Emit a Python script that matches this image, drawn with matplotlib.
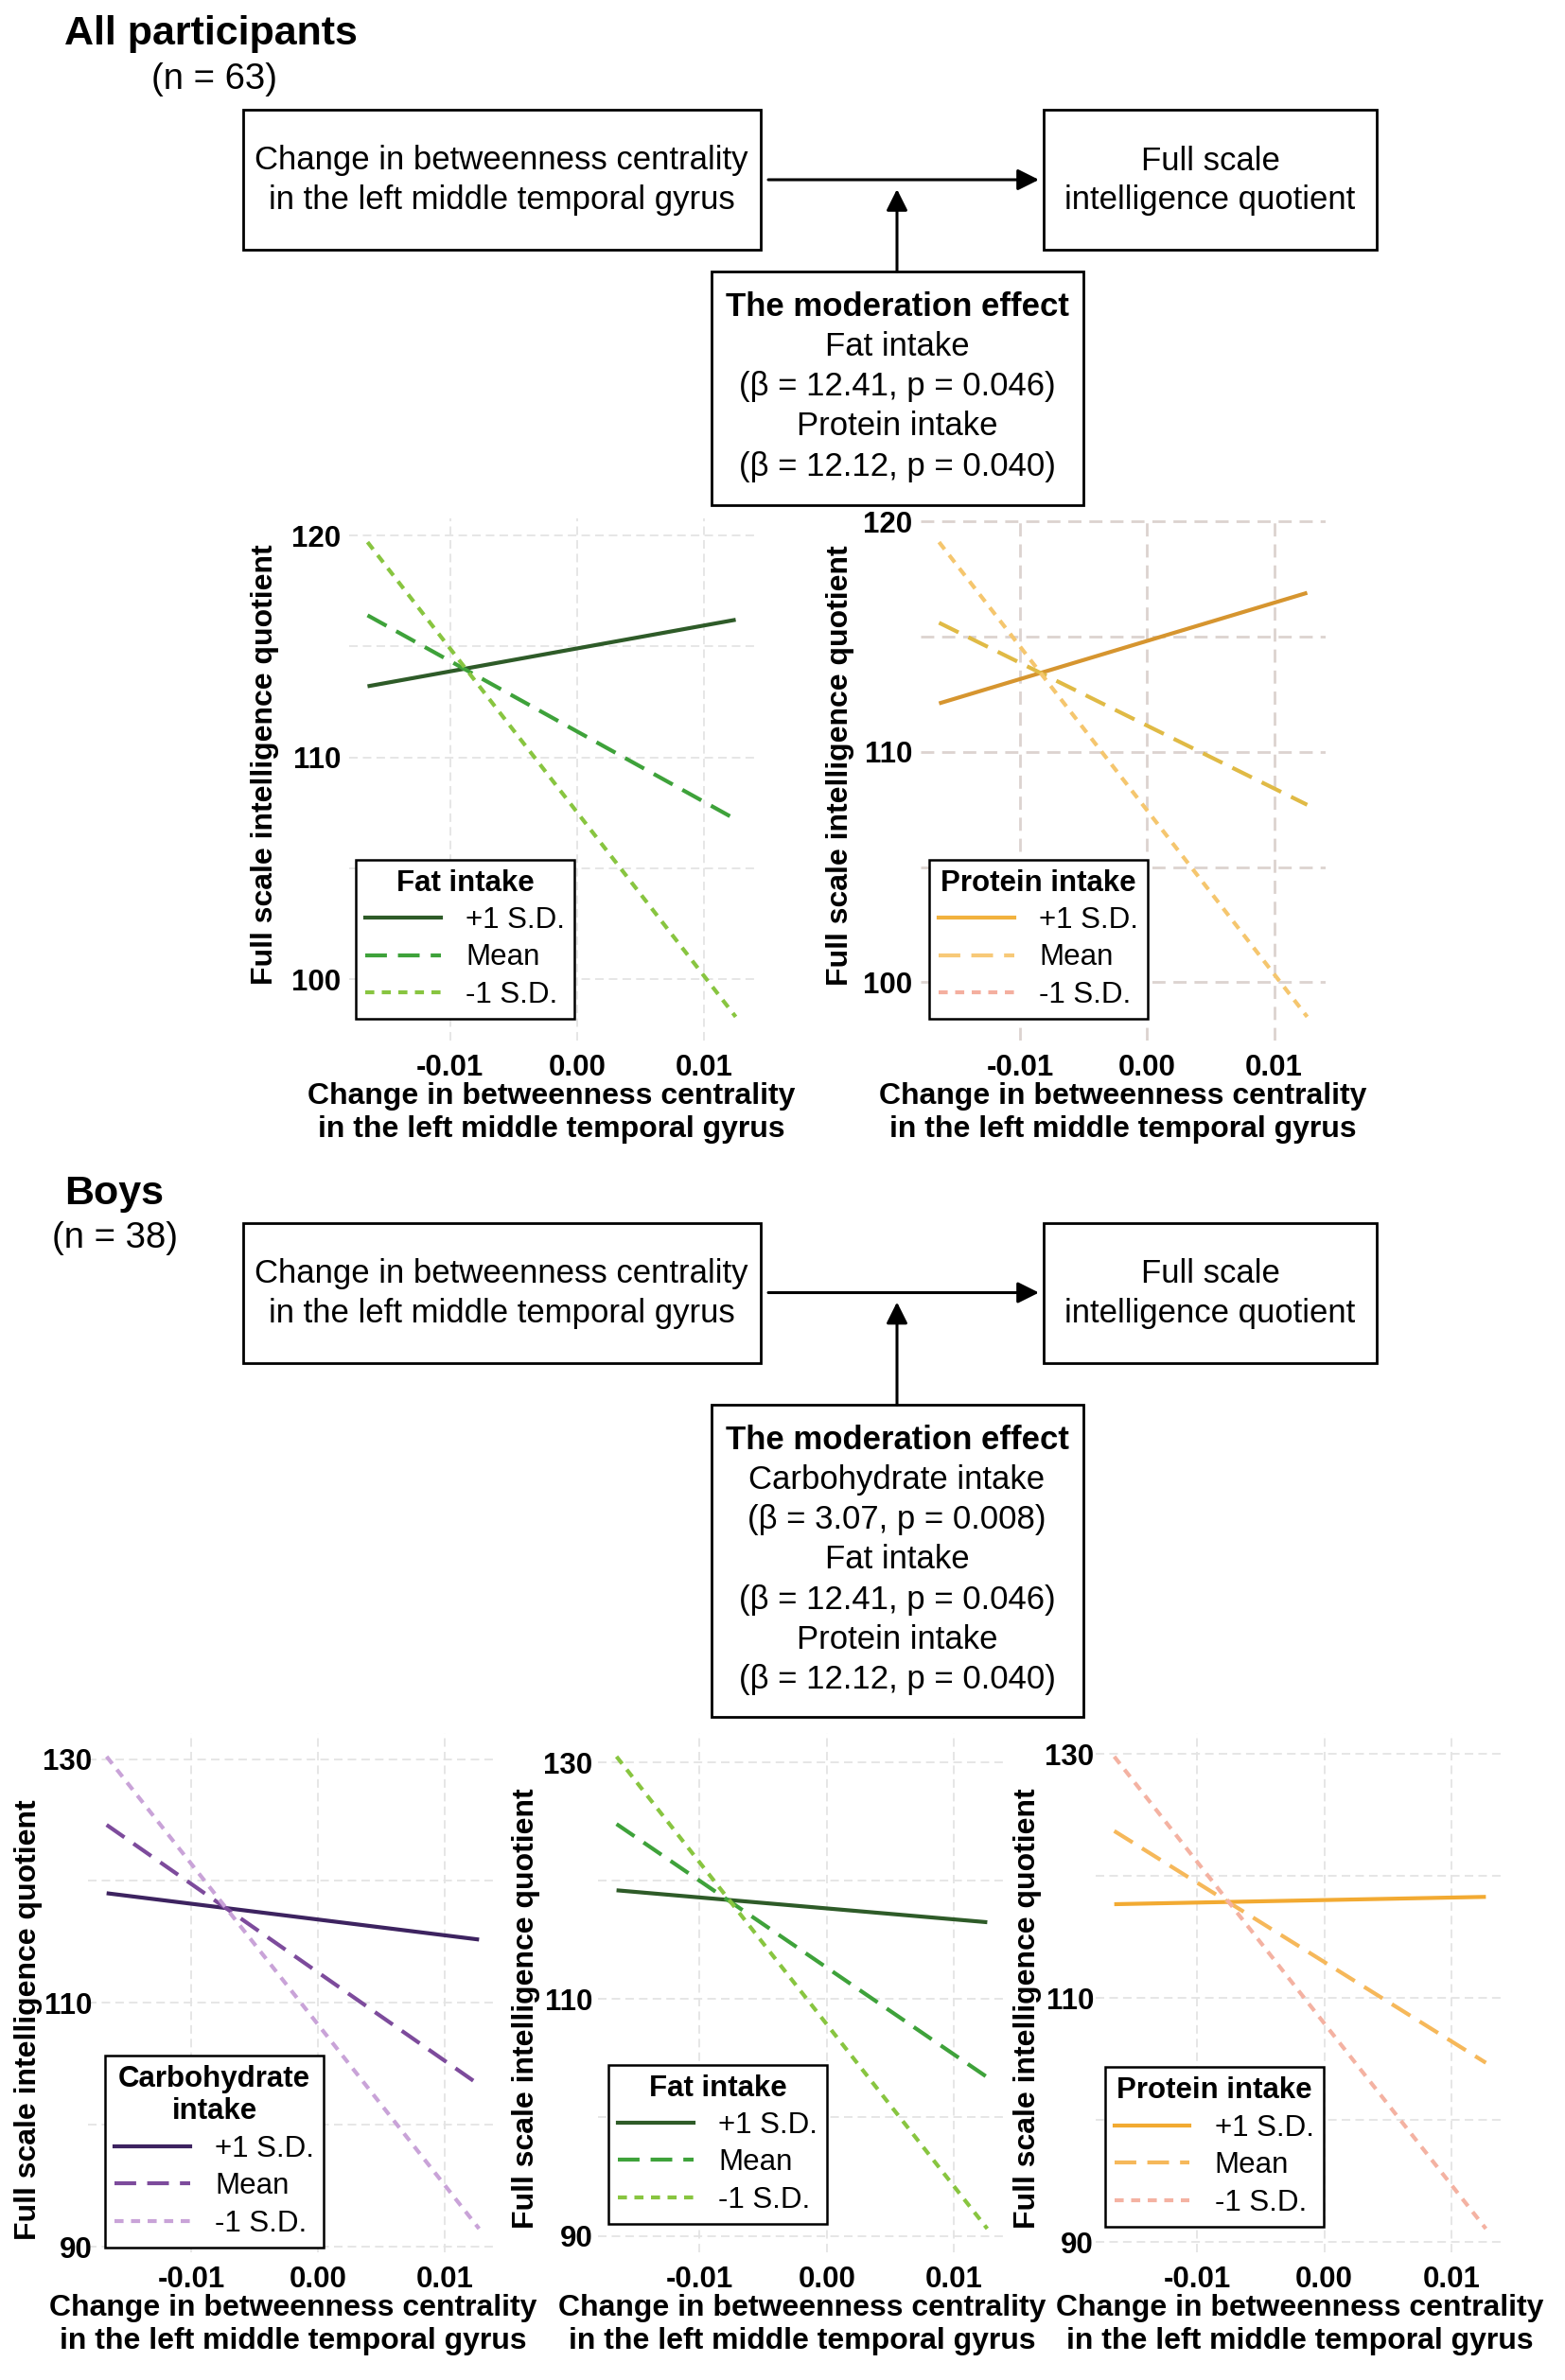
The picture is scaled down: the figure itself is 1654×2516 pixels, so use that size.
import matplotlib
matplotlib.use("Agg")
import matplotlib.pyplot as plt
from matplotlib.lines import Line2D
from matplotlib.patches import Rectangle

plt.rcParams['font.family'] = ['Liberation Sans', 'DejaVu Sans']

W, H = 1654, 2516

levels = ["+1 S.D.", "Mean", "-1 S.D."]
x_ticks = [-0.01, 0.00, 0.01]
x_ticklabels = ["-0.01", "0.00", "0.01"]

# ---- all participants (n = 63): line end points
all_fat_x = [-0.0165, 0.0125]
all_fat_hi = [113.2, 116.2]
all_fat_mean = [116.4, 107.2]
all_fat_lo = [119.7, 98.3]

all_prot_x = [-0.0164, 0.0126]
all_prot_hi = [112.1, 116.9]
all_prot_mean = [115.6, 107.7]
all_prot_lo = [119.1, 98.5]

# ---- boys (n = 38)
boys_carb_x = [-0.0167, 0.0127]
boys_carb_hi = [119.0, 115.2]
boys_carb_mean = [124.6, 103.3]
boys_carb_lo = [130.2, 91.5]

boys_fat_x = [-0.0165, 0.0126]
boys_fat_hi = [119.2, 116.5]
boys_fat_mean = [124.8, 103.4]
boys_fat_lo = [130.5, 90.6]

boys_prot_x = [-0.0165, 0.0127]
boys_prot_hi = [117.7, 118.3]
boys_prot_mean = [123.7, 104.7]
boys_prot_lo = [129.8, 91.1]

# diagram texts
box_left = ["Change in betweenness centrality", "in the left middle temporal gyrus"]
box_right = ["Full scale", "intelligence quotient"]
mod_all = ["The moderation effect", "Fat intake", "(β = 12.41, p = 0.046)",
           "Protein intake", "(β = 12.12, p = 0.040)"]
mod_boys = ["The moderation effect", "Carbohydrate intake", "(β = 3.07, p = 0.008)",
            "Fat intake", "(β = 12.41, p = 0.046)",
            "Protein intake", "(β = 12.12, p = 0.040)"]

greens = ["#2e5b28", "#3ea23a", "#88c540"]
purples = ["#3d2360", "#7d4b9c", "#c9a3d8"]
oranges_top = ["#d6952f", "#e0ba45", "#f5c66e"]
oranges_top_leg = ["#f2b23e", "#f7c978", "#f4af9f"]
oranges_boys = ["#f2aa32", "#f6b85a", "#f4b2a2"]
styles = ["-", (0, (5.5, 2.8)), (0, (2.3, 1.9))]

fig = plt.figure(figsize=(W / 100, H / 100), dpi=100)

# ---------- diagram layer in pixel coordinates
bg = fig.add_axes([0, 0, 1, 1])
bg.set_xlim(0, W)
bg.set_ylim(H, 0)
bg.axis("off")
bg.set_zorder(-1)

FS_BOX = 25


def box(x0, y0, x1, y1):
    bg.add_patch(Rectangle((x0, y0), x1 - x0, y1 - y0, fill=False, ec="black", lw=2))


def lines_in(xc, y_first, step, texts, bold_first=False):
    for i, t in enumerate(texts):
        bg.text(xc, y_first + i * step, t, ha="center", va="center", fontsize=FS_BOX,
                fontweight="bold" if (bold_first and i == 0) else "normal")


def arrow(x0, y0, x1, y1):
    bg.annotate("", xy=(x1, y1), xytext=(x0, y0),
                arrowprops=dict(arrowstyle="-|>", color="black", lw=2.2,
                                mutation_scale=34, shrinkA=0, shrinkB=0))


def diagram(y_off, mod_top, mod_bottom, mod_texts):
    box(257, 116 + y_off, 804, 264 + y_off)
    box(1103, 116 + y_off, 1455, 264 + y_off)
    lines_in(530, 170 + y_off, 42, box_left)
    lines_in(1279, 170 + y_off, 42, box_right)
    arrow(812, 190 + y_off, 1098, 190 + y_off)
    box(752, mod_top, 1145, mod_bottom)
    arrow(948, mod_top, 948, 200 + y_off)
    lines_in(948, mod_top + 37, 42.3, mod_texts, bold_first=True)


diagram(0, 287, 534, mod_all)
diagram(1176.5, 1485, 1815, mod_boys)

bg.text(68, 36, "All participants", fontsize=31, fontweight="bold", va="center", ha="left")
bg.text(160, 84, "(n = 63)", fontsize=27.5, va="center", ha="left")
bg.text(68, 1262, "Boys", fontsize=31, fontweight="bold", va="center", ha="left")
bg.text(55, 1309, "(n = 38)", fontsize=27.5, va="center", ha="left")


# ---------- simple slope panels
def panel(px, x, series, colors, leg_title, leg_anchor, yticks, ygrid,
          ylab_pos, ypad, grid_color="#e4e4e4", grid_lw=1.3, leg_colors=None):
    x0, y0, x1, y1 = px
    ax = fig.add_axes([x0 / W, 1 - y1 / H, (x1 - x0) / W, (y1 - y0) / H])
    for ys, c, s in zip(series, colors, styles):
        ax.plot(x, ys, color=c, ls=s, lw=3, solid_capstyle="butt", dash_capstyle="butt")
    allv = [v for ys in series for v in ys]
    xr = x[1] - x[0]
    yr = max(allv) - min(allv)
    ax.set_xlim(x[0] - 0.05 * xr, x[1] + 0.05 * xr)
    ax.set_ylim(min(allv) - 0.05 * yr, max(allv) + 0.05 * yr)
    ax.set_xticks(x_ticks)
    ax.set_xticklabels(x_ticklabels)
    ax.set_yticks(yticks)
    ax.set_yticks(ygrid, minor=True)
    ax.tick_params(axis="both", which="both", length=0, labelsize=22.5)
    ax.tick_params(axis="x", pad=10)
    ax.tick_params(axis="y", pad=ypad)
    for lab in ax.get_xticklabels() + ax.get_yticklabels():
        lab.set_fontweight("bold")
    ax.grid(True, which="both", color=grid_color, lw=grid_lw, ls=(0, (5, 3)))
    ax.set_axisbelow(True)
    for sp in ax.spines.values():
        sp.set_visible(False)
    ax.set_xlabel("Change in betweenness centrality\nin the left middle temporal gyrus",
                  fontsize=23, fontweight="bold", linespacing=1.2)
    ax.xaxis.set_label_coords(0.5, -0.08)
    ax.xaxis.label.set_va("top")
    ax.set_ylabel("Full scale intelligence quotient", fontsize=23, fontweight="bold")
    ax.yaxis.set_label_coords(*ylab_pos)

    lc = leg_colors if leg_colors else colors
    handles = [Line2D([], [], color=c, ls=s, lw=3) for c, s in zip(lc, styles)]
    leg = ax.legend(handles, levels, title=leg_title, loc="lower left",
                    bbox_to_anchor=leg_anchor, borderaxespad=0, frameon=True,
                    fancybox=False, framealpha=1, fontsize=22.5,
                    title_fontproperties={"weight": "bold", "size": 22.5},
                    handlelength=2.55, handletextpad=0.85, borderpad=0.32,
                    labelspacing=0.3)
    leg.get_frame().set_edgecolor("black")
    leg.get_frame().set_linewidth(1.8)
    leg.get_title().set_multialignment("center")
    return ax


panel((369, 548, 797, 1100), all_fat_x, [all_fat_hi, all_fat_mean, all_fat_lo],
      greens, "Fat intake", (0.016, 0.042), [100, 110, 120], [105, 115],
      (-0.173, 0.529), 6.5)
panel((973, 548, 1401, 1100), all_prot_x, [all_prot_hi, all_prot_mean, all_prot_lo],
      oranges_top, "Protein intake", (0.021, 0.042), [100, 110, 120], [105, 115],
      (-0.164, 0.527), 6.5, grid_color="#dcd3cf", grid_lw=2.0, leg_colors=oranges_top_leg)

panel((93, 1832, 526, 2381), boys_carb_x, [boys_carb_hi, boys_carb_mean, boys_carb_lo],
      purples, "Carbohydrate\nintake", (0.042, 0.01), [90, 110, 130], [100, 120],
      (-0.112, 0.448), -3)
panel((632, 1832, 1063, 2381), boys_fat_x, [boys_fat_hi, boys_fat_mean, boys_fat_lo],
      greens, "Fat intake", (0.026, 0.055), [90, 110, 130], [100, 120],
      (-0.142, 0.47), 4)
panel((1158, 1832, 1590, 2381), boys_prot_x, [boys_prot_hi, boys_prot_mean, boys_prot_lo],
      oranges_boys, "Protein intake", (0.022, 0.05), [90, 110, 130], [100, 120],
      (-0.132, 0.47), 1.5)

fig.savefig("out.png", dpi=100, facecolor="white")
